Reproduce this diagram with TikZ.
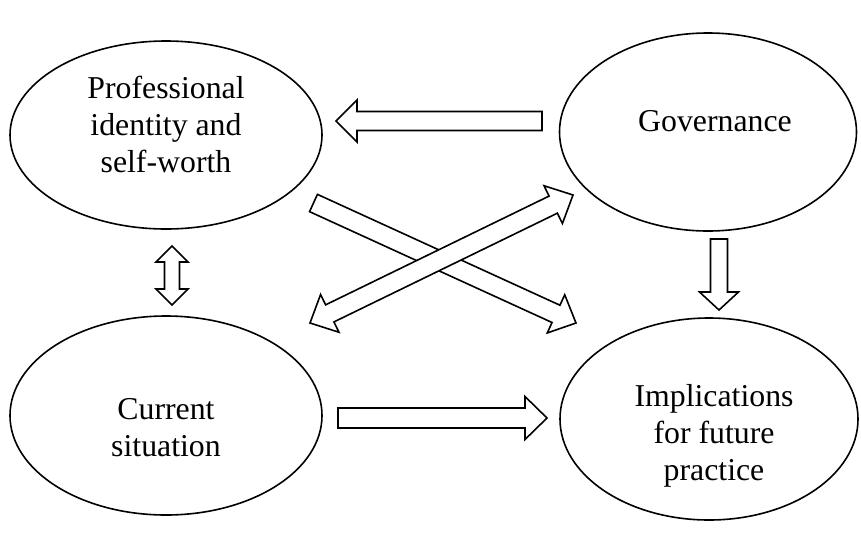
\documentclass[tikz,border=0pt]{standalone}
\usepackage{fontspec}
\setmainfont{Liberation Serif}
\usetikzlibrary{calc,shapes.geometric}
\tikzset{
  topic/.style={ellipse, draw=black, line width=1.6pt, inner sep=0pt},
  lbl/.style={align=center, font=\fontsize{31.8}{37}\selectfont, inner sep=0pt},
  blockline/.style={draw=black, fill=white, line width=1.6pt, line join=miter},
}
% single block arrow from #1 to #2 (tip at #2); #3 shaft half width, #4 head half width, #5 head length
\newcommand{\blockarrow}[5]{%
  \draw[blockline] ($(#1)!#3!90:(#2)$) -- ($(#2)!#5!(#1)!#3!-90:(#1)$) -- ($(#2)!#5!(#1)!#4!-90:(#1)$) -- (#2)
   -- ($(#2)!#5!(#1)!#4!90:(#1)$) -- ($(#2)!#5!(#1)!#3!90:(#1)$) -- ($(#1)!#3!-90:(#2)$) -- cycle;}
% double block arrow
\newcommand{\dblockarrow}[5]{%
  \draw[blockline] (#1) -- ($(#1)!#5!(#2)!#4!90:(#2)$) -- ($(#1)!#5!(#2)!#3!90:(#2)$)
   -- ($(#2)!#5!(#1)!#3!-90:(#1)$) -- ($(#2)!#5!(#1)!#4!-90:(#1)$) -- (#2)
   -- ($(#2)!#5!(#1)!#4!90:(#1)$) -- ($(#2)!#5!(#1)!#3!90:(#1)$)
   -- ($(#1)!#5!(#2)!#3!-90:(#2)$) -- ($(#1)!#5!(#2)!#4!-90:(#2)$) -- cycle;}
\begin{document}
\begin{tikzpicture}[x=1pt, y=-1pt]
\useasboundingbox (0,0) rectangle (861,539);
\node[topic, minimum width=312pt, minimum height=188pt] (prof) at (166,135) {};
\node[topic, minimum width=297pt, minimum height=198pt] (gov) at (708,132) {};
\node[topic, minimum width=312pt, minimum height=199pt] (cur) at (166,415.5) {};
\node[topic, minimum width=298pt, minimum height=202pt] (impl) at (709,419) {};
\node[lbl] (proftxt) at (166,124.5) {Professional\\identity and\\self-worth};
\node[lbl] (govtxt) at (715,121.5) {Governance};
\node[lbl] (curtxt) at (166,428) {Current\\situation};
\node[lbl] (impltxt) at (714,436) {Implications\\for future\\practice};
% arrow end points
\coordinate (g2p-a) at (542,121);
\coordinate (g2p-b) at (336,121);
\coordinate (c2i-a) at (338,418);
\coordinate (c2i-b) at (547,418);
\coordinate (g2i-a) at (719,239);
\coordinate (g2i-b) at (719,310);
\coordinate (pc-a) at (172,246);
\coordinate (pc-b) at (172,305);
\coordinate (p2i-a) at (313.5,203);
\coordinate (p2i-b) at (576,323);
\coordinate (cg-a) at (310,323);
\coordinate (cg-b) at (573,195);
\blockarrow{g2p-a}{g2p-b}{9.5pt}{21pt}{21pt}
\blockarrow{c2i-a}{c2i-b}{10pt}{21.5pt}{22pt}
\blockarrow{g2i-a}{g2i-b}{8.5pt}{19.5pt}{18pt}
\dblockarrow{pc-a}{pc-b}{7.5pt}{16pt}{16pt}
\blockarrow{p2i-a}{p2i-b}{9.5pt}{21pt}{22pt}
\dblockarrow{cg-a}{cg-b}{9.5pt}{21pt}{22pt}
\end{tikzpicture}
\end{document}
